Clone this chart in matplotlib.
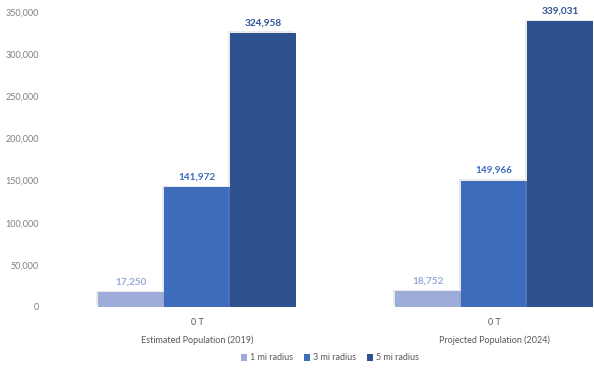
import matplotlib
matplotlib.use("Agg")
import matplotlib.pyplot as plt
import matplotlib.patheffects as pe
from matplotlib.patches import Patch
import numpy as np

categories = ["Estimated Population (2019)", "Projected Population (2024)"]
sub_labels = ["0 T", "0 T"]
series_names = ["1 mi radius", "3 mi radius", "5 mi radius"]
values_1mi = [17250, 18752]
values_3mi = [141972, 149966]
values_5mi = [324958, 339031]
yticks = [0, 50000, 100000, 150000, 200000, 250000, 300000, 350000]

colors = ["#9EACD9", "#3D6CBD", "#2E5290"]
label_colors = ["#9AA9D8", "#3D6CBD", "#2E5290"]

plt.rcParams['font.family'] = ['Lato', 'DejaVu Sans']

fig = plt.figure(figsize=(5.94, 3.69), dpi=100)
ax = fig.add_axes([48.5/594, 62/369, 594/594, 295/369])

x = np.arange(len(categories))
w = 1/4.5
all_vals = [values_1mi, values_3mi, values_5mi]
for i, (vals, name) in enumerate(zip(all_vals, series_names)):
    ax.bar(x + (i-1)*w, vals, width=w, color=colors[i], zorder=3,
           path_effects=[pe.SimplePatchShadow(offset=(-1.2, 1.2), shadow_rgbFace='#999999', alpha=0.2), pe.Normal()])
    for xi, v in zip(x + (i-1)*w, vals):
        ax.annotate(f"{v:,}", (xi, v), xytext=(0, 4), textcoords='offset points',
                    ha='center', va='bottom', fontsize=7.2, fontweight='bold',
                    color=label_colors[i])

ax.set_xlim(-0.5, 1.5)
ax.set_ylim(0, 350000)
ax.set_yticks(yticks)
ax.set_yticklabels([f"{t:,}" for t in yticks], fontsize=6.5, color='#7F7F7F')
ax.set_xticks(x)
ax.set_xticklabels(sub_labels, fontsize=6.5, color='#595959')
ax.tick_params(axis='both', length=0)
ax.tick_params(axis='y', pad=7)
ax.tick_params(axis='x', pad=8)
for s in ax.spines.values():
    s.set_visible(False)

trans = matplotlib.transforms.blended_transform_factory(ax.transData, fig.transFigure)
for xi, c in zip(x, categories):
    ax.text(xi, 1 - 340/369, c, transform=trans, ha='center', va='center',
            fontsize=6.5, color='#595959')

handles = [Patch(facecolor=c, edgecolor='none') for c in colors]
fig.legend(handles, series_names, loc='center', bbox_to_anchor=(330/594, 1 - 358/369), ncol=3,
           frameon=False, fontsize=6.5, handlelength=0.7, handleheight=0.7,
           handletextpad=0.3, columnspacing=1.2, labelcolor='#595959')

fig.savefig("out.png", dpi=100)
